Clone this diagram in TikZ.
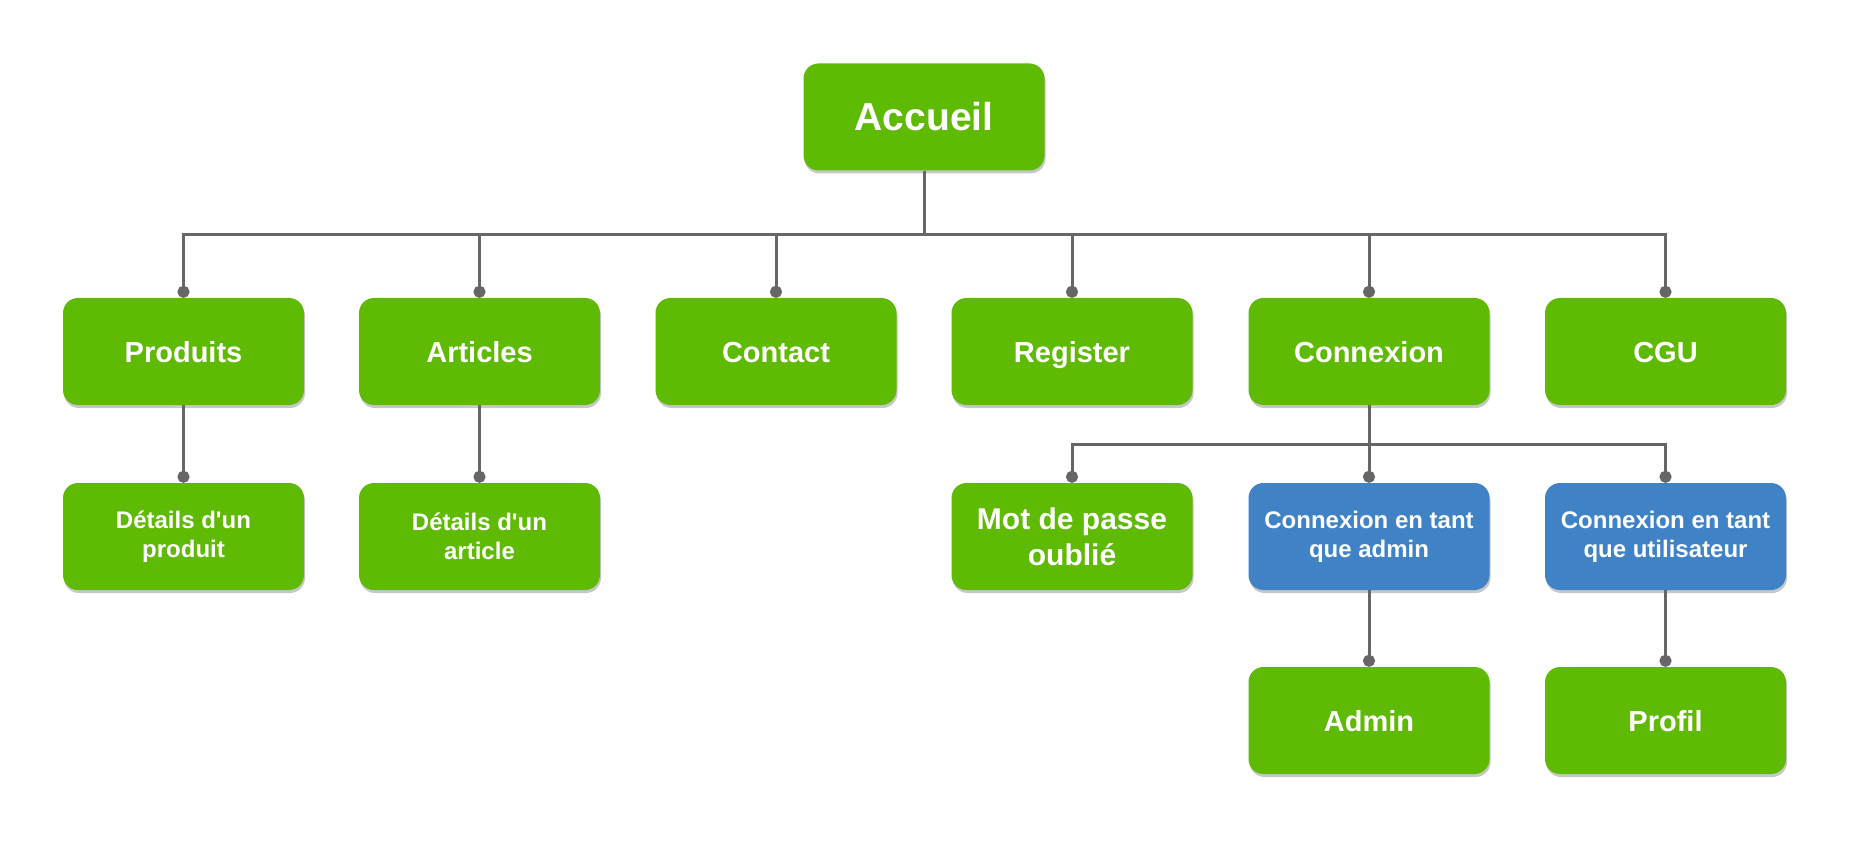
\documentclass[tikz,border=0pt]{standalone}
\usepackage{fontspec}
\setmainfont{Liberation Sans}[Ligatures=TeXOff]
\usetikzlibrary{arrows.meta,shadows}
\definecolor{gr}{HTML}{5FBA04}
\definecolor{bl}{HTML}{3F83C6}
\definecolor{ln}{HTML}{666666}
\tikzset{
 box/.style={rounded corners=15pt, minimum width=241pt, minimum height=107pt, text=white, align=center, inner sep=0pt,
   drop shadow={shadow xshift=1pt, shadow yshift=-3pt, opacity=0.22, fill=black}},
 gbox/.style={box, fill=gr},
 bbox/.style={box, fill=bl},
 conn/.style={draw=ln, line width=3pt, -{Circle[length=12pt,width=12pt]}},
 fA/.style={font=\bfseries\fontsize{39}{47}\selectfont},
 fB/.style={font=\bfseries\fontsize{29}{35}\selectfont, text height=21pt, text depth=0pt},
 fC/.style={font=\bfseries\fontsize{24}{29}\selectfont},
 fD/.style={font=\bfseries\fontsize{30}{36}\selectfont},
}
\begin{document}
\begin{tikzpicture}[x=1pt,y=1pt]
\useasboundingbox[fill=white] (0,0) rectangle (1852,-842);
\node[gbox,fA] (acc) at (924,-117) {Accueil};
\node[gbox,fB] (prod) at (183.5,-351.5) {Produits};
\node[gbox,fB] (art) at (479.5,-351.5) {Articles};
\node[gbox,fB] (cont) at (776,-351.5) {Contact};
\node[gbox,fB] (reg) at (1072,-351.5) {Register};
\node[gbox,fB] (con) at (1369,-351.5) {Connexion};
\node[gbox,fB] (cgu) at (1665.5,-351.5) {CGU};
\node[gbox,fC] (det1) at (183.5,-536.5) {Détails d'un\\produit};
\node[gbox,fC] (det2) at (479.5,-536.5) {Détails d'un\\article};
\node[gbox,fD] (mdp) at (1072,-536.5) {Mot de passe\\oublié};
\node[bbox,fC] (cadm) at (1369,-536.5) {Connexion en tant\\que admin};
\node[bbox,fC] (cuti) at (1665.5,-536.5) {Connexion en tant\\que utilisateur};
\node[gbox,fB] (adm) at (1369,-720.5) {Admin};
\node[gbox,fB] (prof) at (1665.5,-720.5) {Profil};
\foreach \n in {prod,art,cont,reg,con,cgu}
  \draw[conn] (acc.south) -- ++(0,-63.5) -| (\n.north);
\draw[conn] (prod.south) -- (det1.north);
\draw[conn] (art.south) -- (det2.north);
\foreach \n in {mdp,cadm,cuti}
  \draw[conn] (con.south) -- ++(0,-39) -| (\n.north);
\draw[conn] (cadm.south) -- (adm.north);
\draw[conn] (cuti.south) -- (prof.north);
\end{tikzpicture}
\end{document}
